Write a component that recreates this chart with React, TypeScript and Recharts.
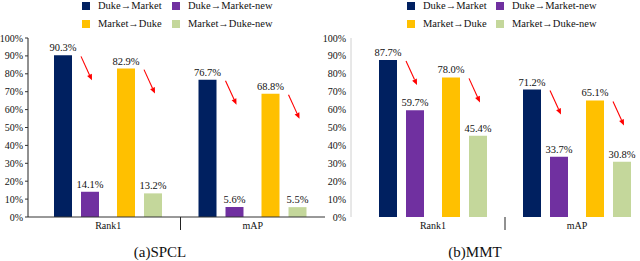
import React from 'react';
import { BarChart, Bar, XAxis, YAxis, LabelList } from 'recharts';

const categories = ['Rank1', 'mAP'];
const seriesNames = ['Duke→Market', 'Duke→Market-new', 'Market→Duke', 'Market→Duke-new'];
const seriesColors = ['#002060', '#7030A0', '#FFC000', '#C4D79B'];

const spclDukeMarket = [90.3, 76.7];
const spclDukeMarketNew = [14.1, 5.6];
const spclMarketDuke = [82.9, 68.8];
const spclMarketDukeNew = [13.2, 5.5];

const mmtDukeMarket = [87.7, 71.2];
const mmtDukeMarketNew = [59.7, 33.7];
const mmtMarketDuke = [78.0, 65.1];
const mmtMarketDukeNew = [45.4, 30.8];

const yTicks = [0, 10, 20, 30, 40, 50, 60, 70, 80, 90, 100];
const titles = ['(a)SPCL', '(b)MMT'];

const FONT = '"Liberation Serif", "Times New Roman", serif';

const buildData = (a: number[], b: number[], c: number[], d: number[]) =>
  categories.map((cat, i) => ({ cat, s0: a[i], s1: b[i], s2: c[i], s3: d[i] }));

const spclData = buildData(spclDukeMarket, spclDukeMarketNew, spclMarketDuke, spclMarketDukeNew);
const mmtData = buildData(mmtDukeMarket, mmtDukeMarketNew, mmtMarketDuke, mmtMarketDukeNew);

const fmt = (v: any) => `${Number(v).toFixed(1)}%`;

const ArrowLabel = (props: any) => {
  const x = Number(props.x ?? props.viewBox?.x);
  const y = Number(props.y ?? props.viewBox?.y);
  const w = Number(props.width ?? props.viewBox?.width);
  const x1 = x + w + 9;
  const y1 = y + 1;
  const x2 = x + w + 20;
  const y2 = y + 25;
  const ang = Math.atan2(y2 - y1, x2 - x1);
  const L = 6;
  const W = 2.6;
  const bx = x2 - L * Math.cos(ang);
  const by = y2 - L * Math.sin(ang);
  const px = -Math.sin(ang) * W;
  const py = Math.cos(ang) * W;
  return (
    <g>
      <line x1={x1} y1={y1} x2={bx} y2={by} stroke="#FF0000" strokeWidth={1.1} />
      <polygon points={`${x2},${y2} ${bx + px},${by + py} ${bx - px},${by - py}`} fill="#FF0000" />
    </g>
  );
};

const makeXTick = (dividerColor: string) => {
  let firstX = 0;
  return (props: any) => {
    const { x, y, payload, index } = props;
    if (index === 0) firstX = x;
    const mid = (firstX + x) / 2;
    return (
      <g>
        <text x={x} y={y} dy="0.71em" textAnchor="middle" fontSize={10} fill="#111" fontFamily={FONT}>
          {payload.value}
        </text>
        {index === 1 && (
          <line x1={mid} x2={mid} y1={y - 5} y2={y + 8} stroke={dividerColor} strokeWidth={1} />
        )}
      </g>
    );
  };
};

type PanelProps = {
  data: any[];
  left: number;
  width: number;
  yAxisWidth: number;
  padLeft: number;
  dark: boolean;
};

const Panel = ({ data, left, width, yAxisWidth, padLeft, dark }: PanelProps) => {
  const axisColor = dark ? '#222' : '#d0d0d0';
  return (
    <div style={{ position: 'absolute', left, top: 0 }}>
      <BarChart
        width={width}
        height={261}
        data={data}
        margin={{ top: 38, right: 5, left: 0, bottom: 14 }}
        barGap={9}
        style={{ fontFamily: FONT }}
      >
        <XAxis
          dataKey="cat"
          height={30}
          padding={{ left: padLeft, right: 0 }}
          axisLine={dark ? { stroke: '#333' } : false}
          tickLine={false}
          tickSize={0}
          tickMargin={5}
          interval={0}
          tick={makeXTick('#222')}
        />
        <YAxis
          width={yAxisWidth}
          domain={[0, 100]}
          ticks={yTicks}
          interval={0}
          tickFormatter={(v: number) => `${v}%`}
          axisLine={{ stroke: axisColor }}
          tickLine={dark ? { stroke: '#333' } : false}
          tickSize={3}
          tickMargin={2}
          tick={{ fontSize: 10, fill: '#111', fontFamily: FONT }}
        />
        <Bar dataKey="s0" fill={seriesColors[0]} barSize={18} isAnimationActive={false}>
          <LabelList dataKey="s0" position="top" offset={4} formatter={fmt} fontSize={10.5} fill="#111" fontFamily={FONT} />
          <LabelList dataKey="s0" content={ArrowLabel} />
        </Bar>
        <Bar dataKey="s1" fill={seriesColors[1]} barSize={18} isAnimationActive={false}>
          <LabelList dataKey="s1" position="top" offset={4} formatter={fmt} fontSize={10.5} fill="#111" fontFamily={FONT} />
        </Bar>
        <Bar dataKey="gap" fill="none" barSize={0} isAnimationActive={false} legendType="none" />
        <Bar dataKey="s2" fill={seriesColors[2]} barSize={18} isAnimationActive={false}>
          <LabelList dataKey="s2" position="top" offset={4} formatter={fmt} fontSize={10.5} fill="#111" fontFamily={FONT} />
          <LabelList dataKey="s2" content={ArrowLabel} />
        </Bar>
        <Bar dataKey="s3" fill={seriesColors[3]} barSize={18} isAnimationActive={false}>
          <LabelList dataKey="s3" position="top" offset={4} formatter={fmt} fontSize={10.5} fill="#111" fontFamily={FONT} />
        </Bar>
      </BarChart>
    </div>
  );
};

const LegendBlock = ({ left, col2 }: { left: number; col2: number }) => (
  <div style={{ position: 'absolute', left, top: 0, width: 240, height: 32, fontFamily: FONT, fontSize: 10.5, color: '#111' }}>
    {seriesNames.map((name, i) => {
      const row = i < 2 ? 0 : 1;
      const col = i % 2;
      const x = col === 0 ? 0 : col2;
      const y = row === 0 ? 2 : 20;
      return (
        <div key={name} style={{ position: 'absolute', left: x, top: y, display: 'flex', alignItems: 'center', whiteSpace: 'nowrap', height: 8 }}>
          <span style={{ display: 'inline-block', width: 8, height: 8, background: seriesColors[i], marginRight: 8 }} />
          <span style={{ lineHeight: '8px' }}>{name}</span>
        </div>
      );
    })}
  </div>
);

export default function App() {
  return (
    <div style={{ position: 'absolute', left: 0, top: 0, width: 640, height: 261, overflow: 'hidden', background: '#fff', fontFamily: FONT }}>
      <Panel data={spclData} left={0} width={330} yAxisWidth={28} padLeft={8} dark={true} />
      <Panel data={mmtData} left={320} width={334} yAxisWidth={31} padLeft={10} dark={false} />
      <LegendBlock left={82} col2={90} />
      <LegendBlock left={407} col2={89} />
      <div style={{ position: 'absolute', left: 60, width: 200, top: 244, textAlign: 'center', fontSize: 15, color: '#111' }}>{titles[0]}</div>
      <div style={{ position: 'absolute', left: 375, width: 200, top: 244, textAlign: 'center', fontSize: 15, color: '#111' }}>{titles[1]}</div>
    </div>
  );
}
